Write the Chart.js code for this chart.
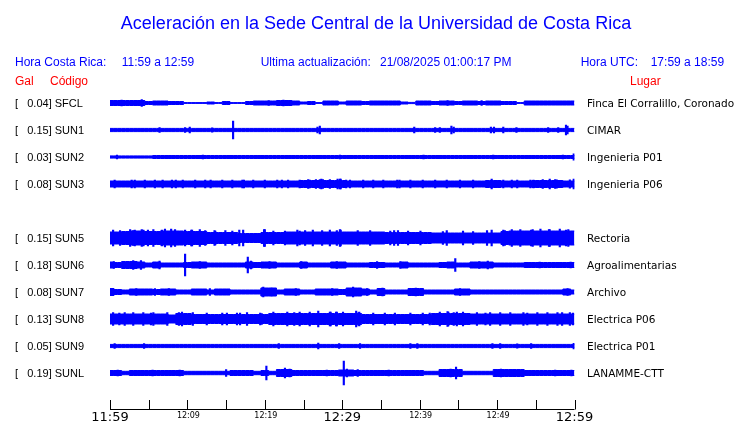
<!DOCTYPE html>
<html><head><meta charset="utf-8">
<script src="https://cdn.jsdelivr.net/npm/chart.js@4.4.1/dist/chart.umd.min.js"></script>
<style>html,body{margin:0;padding:0;background:#fff}#wrap{width:740px;height:423px;position:relative}</style>
</head><body><div id="wrap"><canvas id="c" width="740" height="423"></canvas></div>
<script>
// ---------- data ----------
const titleText = 'Aceleración en la Sede Central de la Universidad de Costa Rica';
const headerCR = ['Hora Costa Rica:', '11:59 a 12:59'];
const headerUpd = ['Ultima actualización:', '21/08/2025 01:00:17 PM'];
const headerUTC = ['Hora UTC:', '17:59 a 18:59'];
const colHeads = ['Gal', 'Código', 'Lugar'];

const stations = ['SFCL','SUN1','SUN2','SUN3','SUN5','SUN6','SUN7','SUN8','SUN9','SUNL'];
const stationRows = [0,1,2,3,5,6,7,8,9,10];
const galValues = ['0.04','0.15','0.03','0.08','0.15','0.18','0.08','0.13','0.05','0.19'];
const places = ['Finca El Corralillo, Coronado','CIMAR','Ingenieria P01','Ingenieria P06','Rectoria','Agroalimentarias','Archivo','Electrica P06','Electrica P01','LANAMME-CTT'];

const tickMinutes = [0,5,10,15,20,25,30,35,40,45,50,55,60];
const labelMinutes = [0,10,20,30,40,50,60];
const tickLabels = ['11:59','12:09','12:19','12:29','12:39','12:49','12:59'];
const bigLabels = [true,false,false,true,false,false,true];

// amplitude envelope (half-amplitude) sampled once per minute, 0..60
const envSFCL = [2.5,2.5,2.5,2.5,2.5,1.5,2,2,1.5,1.5,0.4,0.4,0.4,1,0.4,1.5,0.4,0.4,1.5,2,2,2,2.5,2.5,2,1,1.5,0.4,2,2,1,2,2,1.5,2,2,2,2,1,0.6,2,2,1.5,2,2,1.5,2,2,1.5,2,2,1.5,1.5,0.4,2,2,2,2,2,2,2];
const envSUN1 = [1.6,1.6,1.6,1.6,1.6,1.6,1.6,1.6,1.6,1.6,1.6,1.6,1.6,1.6,1.6,1.6,1.6,1.6,1.6,1.6,1.6,1.6,1.6,1.6,1.6,1.6,1.6,1.6,1.6,1.6,1.6,1.6,1.6,1.6,1.6,1.6,1.6,1.6,1.6,1.6,1.6,1.6,1.6,1.6,1.6,1.6,1.6,1.6,1.6,1.6,1.6,1.6,1.6,1.6,1.6,1.6,1.6,1.6,1.6,1.6,1.6];
const envSUN2 = [1.1,1.1,1.1,1.1,1.1,1.1,1.5,1.5,1.5,1.5,1.5,1.5,1.5,1.5,1.5,1.5,1.5,1.5,1.5,1.5,1.5,1.5,1.5,1.5,1.5,1.5,1.5,1.5,1.5,1.5,1.5,1.5,1.5,1.5,1.5,1.5,1.5,1.5,1.5,1.5,1.5,1.5,1.5,1.5,1.5,1.5,1.5,1.5,1.5,1.5,1.5,1.5,1.5,1.5,1.5,1.5,1.5,1.5,1.5,1.5,1.5];
const envSUN3 = [3,3,3,3,3,3,3,3,3,3,3,3,3,3,3,3,3,3,3,3,3,3,3,3,3,3.5,3.5,3.5,3.5,3.5,3.5,3,3,3,3,3,3,3,3,3,3,3,3,3,3,3,3,3,3,3.5,3.5,3,3,3,3,3.5,3.5,3.5,3.5,3,3];
const envSUN5 = [6,6,6.5,7,7,6.5,6.5,7,7,7,6.5,6.5,6.5,5.5,5.5,5.5,5.5,4.5,4.5,4.5,5.5,5.5,5.5,6,6,6,6,6,6,6,6,6,6,6,6,6,5.5,5.5,5.5,5.5,5.5,5.5,5,5,5,5,5,5,5,5,5,6.5,7,7,7,7,7,7,7,7,7];
const envSUN6 = [3,2.5,3.5,3.5,3,2,3,2,2,2,2.5,3,3,2,2,2,2,2,3,2.5,3,3,2,2,2,3,2,2,2,3,3,2,2,2,2.5,2.5,2,2,3,2,2,2,2,2.5,3,2,2,3,3,3,2,2,2,2,2.5,2.5,2.5,2.5,2.5,2.5,2.5];
const envSUN7 = [3.5,2.5,2,3,3,3,2.5,3,3,2,2,3,3,2,3,3,2,2,2,2,4,4,2,3,3,2,2,3,3,3,2.5,4,4,3,2,3.5,2,2,2,3.5,3.5,2,2,2,2,3,3,2,2,2,2,2,2,2,2,2,2,2,2,3,2];
const envSUN8 = [5,5,5,5,5,5,5,5,4,5.5,5.5,4.5,4.5,4.5,4.5,4.5,4.5,4.5,4.5,4.5,4.5,5.5,5.5,5.5,5.5,5.5,5.5,5.5,5.5,5.5,5.5,5.5,5.5,4.5,4.5,4.5,4.5,4.5,4.5,4.5,4.5,4.5,5.5,5.5,5.5,5.5,5.5,5,5,5,5,5,5,5,5,5,5,5,5,5,5];
const envSUN9 = [1.6,1.6,1.6,1.6,1.6,1.6,1.6,1.6,1.6,1.6,1.6,1.6,1.6,1.6,1.6,1.6,1.6,1.6,1.6,1.6,1.6,1.6,1.6,1.6,1.6,1.6,1.6,1.6,1.6,1.6,1.6,1.6,1.6,1.6,1.6,1.6,1.6,1.6,1.6,1.6,1.6,1.6,1.6,1.6,1.6,1.6,1.6,1.6,1.6,1.6,1.6,1.6,1.6,1.6,1.6,1.6,1.6,1.6,1.6,1.6,1.6];
const envSUNL = [2.5,2.5,1.7,2.5,2.5,2.5,2.5,2.5,2.5,2.5,1.7,1.7,1.7,1.7,1.7,1.7,2.5,2.5,2.5,1.7,2.5,1.7,3.5,3.5,2.5,2.5,2.5,2.5,2.5,2.5,3,3,2.5,2.5,2.5,2.5,2.5,2.5,2.5,2.5,2.5,1.7,1.7,3.5,3.5,3.5,1.7,1.7,1.7,1.7,3.5,3.5,3.5,3.5,2.5,2.5,2.5,2.5,2.5,2.5,2.5];

// isolated spikes / peaks: [minute, half-amplitude]
const spkSFCL = [[1.5,3],[4.1,3.5],[20.5,2.5],[22.4,3],[43.6,2.5],[48.0,2.5]];
const spkSUN1 = [[6.4,2.5],[9.7,2.5],[10.3,3],[13.2,2.2],[15.9,9],[26.8,3],[27.1,4],[39.3,3],[42.0,2.5],[42.6,2.5],[44.1,4],[44.4,3],[49.2,3],[49.6,3],[50.8,3],[52.5,2.5],[56.6,2.5],[57.9,2.5],[58.9,5],[59.1,4]];
const spkSUN2 = [[0.9,2],[12.0,1.8],[29.7,2],[40.5,1.8],[49.5,2],[58.5,1.8],[59.9,3.2]];
const spkSUN3 = [[0.6,4],[2.8,3.8],[3.2,4],[4.5,4],[5.8,3.8],[6.8,4],[8.0,4],[8.5,4],[9.4,3.8],[11.0,4],[12.3,4],[13.0,3.8],[14.5,4],[15.8,3.8],[17.1,4],[17.3,3.8],[18.5,4],[20.0,3.8],[21.6,4],[22.2,3.8],[23.0,4],[24.5,4],[25.6,4.5],[25.8,4],[26.6,4.5],[27.1,4.5],[27.3,5],[27.5,4.5],[28.4,4.5],[29.4,5],[29.7,5],[29.8,4.8],[30.5,4],[31.0,4],[32.7,3.8],[34.0,4],[35.3,3.8],[37.1,4],[37.4,3.8],[38.8,4],[40.4,3.8],[42.0,4],[43.5,4],[45.2,3.8],[46.9,4],[49.3,4.8],[50.8,4],[51.9,3.8],[52.6,4],[54.3,4],[54.7,4],[55.9,4.5],[56.8,4.8],[57.5,4.5],[57.7,4.2],[59.4,4.2],[59.9,5]];
const spkSUN5 = [[0.4,8],[1.3,7.5],[2.6,8.5],[3.0,7.5],[3.2,8],[4.1,8.5],[4.3,8],[4.9,8],[5.6,8.5],[6.7,8],[7.1,9],[7.9,9],[8.4,8.5],[9.7,8],[10.5,8],[10.6,8],[11.6,8.5],[12.3,7.5],[13.5,7.5],[13.6,7],[14.9,7.5],[15.8,7],[16.7,8],[17.2,8],[19.9,8.5],[20.0,8.5],[21.1,7],[22.6,7],[24.2,8],[24.5,7],[25.2,7.5],[26.2,8],[27.4,7.5],[28.4,8],[29.3,7.5],[29.7,8.5],[29.8,8],[32.0,7.5],[33.6,7.5],[36.2,7],[36.7,7.5],[37.2,7.5],[38.5,7],[40.1,7],[43.0,6.5],[43.5,7.5],[45.6,7],[46.9,6.5],[48.7,7.5],[49.3,8],[50.8,8],[51.0,7.5],[51.9,8.5],[53.0,8.5],[54.4,8],[54.6,8.5],[55.6,9],[56.7,8.5],[56.8,8.5],[58.1,9],[58.9,8],[59.2,8.5]];
const spkSUN6 = [[0.5,3.5],[3.0,4.5],[4.0,4.5],[6.4,4],[9.7,11],[11.6,3.5],[17.8,8],[18.2,4],[20.6,3.5],[24.7,3.5],[29.3,3.5],[34.5,3.5],[37.5,3.5],[44.6,6.5],[47.7,3.5],[48.8,4],[55.5,3],[59.5,3]];
const spkSUN7 = [[0.4,3.5],[3.4,3.5],[5.8,3.5],[7.6,3.5],[12.9,3.5],[19.6,4],[19.8,5],[20.9,4],[24.0,3.5],[28.7,3.5],[31.4,5],[33.2,3.5],[35.2,4],[39.5,4],[45.2,3.5],[59.1,3.5]];
const spkSUN8 = [[0.4,6.5],[1.2,6],[1.9,6.5],[3.0,6.5],[4.3,6.5],[5.3,6],[5.6,6.5],[7.4,6.5],[8.8,5.5],[8.9,6.5],[9.3,7],[10.7,6.5],[12.5,6],[14.5,6],[15.1,6],[16.4,6],[16.8,6],[17.7,6.5],[19.4,6],[19.6,5.5],[21.1,7],[22.9,7],[23.8,6.5],[24.5,7],[25.8,7],[26.9,8],[28.4,7],[28.5,7],[29.2,7],[29.3,7],[30.1,7],[31.8,8],[32.1,6.5],[32.2,7],[34.0,6],[35.5,6],[36.8,6],[38.8,6],[40.4,6],[41.3,6],[42.6,7],[43.6,7.5],[43.7,7],[44.4,6.5],[44.8,7],[45.6,7],[47.4,6.5],[48.5,6],[49.1,6.5],[50.4,6.5],[51.7,6.5],[53.4,6.5],[53.9,6],[55.2,6.5],[56.5,6.5],[57.8,6.5],[58.4,6.5],[59.4,6.5],[59.8,6]];
const spkSUN9 = [[0.6,2.5],[4.4,2.5],[21.8,2.5],[26.9,3],[29.6,2.5],[32.3,2.5],[38.8,2.5],[39.7,2.5],[49.4,2.5],[50.4,2.5],[52.6,2.2],[54.4,2.5],[59.9,2.8]];
const spkSUNL = [[1.0,3],[5.5,3],[9.0,3],[15.0,3.5],[20.2,7],[22.6,5],[23.2,4],[28.0,3],[30.2,12],[30.6,4],[32.0,3.5],[36.0,3],[44.0,4],[44.7,6],[50.5,4],[52.0,3.5],[57.5,3],[59.6,3]];

const envelopes = [envSFCL,envSUN1,envSUN2,envSUN3,envSUN5,envSUN6,envSUN7,envSUN8,envSUN9,envSUNL];
const spikes = [spkSFCL,spkSUN1,spkSUN2,spkSUN3,spkSUN5,spkSUN6,spkSUN7,spkSUN8,spkSUN9,spkSUNL];

// ---------- chart ----------
const BLUE = '#0000ff';
const ampScale = 1/27; // amplitude unit -> row unit
const datasets = [];
stations.forEach((s, i) => {
  const row = stationRows[i];
  const env = envelopes[i];
  const upIdx = datasets.length;
  datasets.push({type:'line', label:s+' up', data: env.map((a,k)=>({x:k, y: row - a*ampScale})),
    borderColor: BLUE, borderWidth: 1, pointRadius: 0, stepped: 'middle', fill: false});
  datasets.push({type:'line', label:s+' lo', data: env.map((a,k)=>({x:k, y: row + a*ampScale})),
    borderColor: BLUE, borderWidth: 1, pointRadius: 0, stepped: 'middle', fill: {target: upIdx}, backgroundColor: BLUE});
  datasets.push({type:'bar', label:s+' spikes', data: spikes[i].map(([t,a])=>({x:t, y:[row - a*ampScale, row + a*ampScale]})),
    backgroundColor: BLUE, borderWidth: 0, barThickness: 1.5, grouped: false});
});

const textPlugin = {
  id: 'texts',
  afterDraw(chart) {
    const ctx = chart.ctx;
    const xs = chart.scales.x, ys = chart.scales.y;
    ctx.save();
    ctx.textBaseline = 'alphabetic';
    ctx.fillStyle = BLUE;
    ctx.font = '18px "Liberation Sans", Arial, sans-serif';
    ctx.textAlign = 'center';
    ctx.fillText(titleText, 376, 29);
    ctx.textAlign = 'left';
    ctx.font = '12px "Liberation Sans", Arial, sans-serif';
    ctx.fillText(headerCR[0], 15, 66);
    ctx.fillText(headerCR[1], 121.7, 66);
    ctx.fillText(headerUpd[0], 260.7, 66);
    ctx.fillText(headerUpd[1], 380, 66);
    ctx.fillText(headerUTC[0], 580.7, 66);
    ctx.fillText(headerUTC[1], 650.7, 66);
    ctx.fillStyle = '#ff0000';
    ctx.fillText(colHeads[0], 15, 85);
    ctx.fillText(colHeads[1], 50, 85);
    ctx.fillText(colHeads[2], 630, 85);
    stations.forEach((s, i) => {
      const y = ys.getPixelForValue(stationRows[i]) + 4;
      ctx.fillStyle = '#000';
      ctx.font = '11px "Liberation Sans", Arial, sans-serif';
      ctx.textAlign = 'left';
      ctx.fillText('[   ' + galValues[i] + '] ' + s, 15, y);
      ctx.font = '10.5px "DejaVu Sans", sans-serif';
      ctx.fillText(places[i], 587, y);
    });
    const ay = chart.chartArea.bottom;
    ctx.strokeStyle = '#000';
    ctx.lineWidth = 1;
    ctx.beginPath();
    ctx.moveTo(xs.getPixelForValue(0), Math.round(ay) + 0.5);
    ctx.lineTo(xs.getPixelForValue(60), Math.round(ay) + 0.5);
    tickMinutes.forEach(m => {
      const x = Math.round(xs.getPixelForValue(m)) + 0.5;
      ctx.moveTo(x, Math.round(ay) + 0.5);
      ctx.lineTo(x, Math.round(ay) - 9);
    });
    ctx.stroke();
    ctx.fillStyle = '#000';
    ctx.textAlign = 'center';
    labelMinutes.forEach((m, k) => {
      const x = xs.getPixelForValue(m);
      if (bigLabels[k]) { ctx.font = '13px "DejaVu Sans", sans-serif'; ctx.fillText(tickLabels[k], x, 421); }
      else { ctx.font = '8px "DejaVu Sans", sans-serif'; ctx.fillText(tickLabels[k], x + 1, 418.3); }
    });
    ctx.restore();
  }
};

new Chart(document.getElementById('c'), {
  type: 'line',
  data: { datasets },
  options: {
    responsive: false,
    animation: false,
    devicePixelRatio: 1,
    layout: { padding: { left: 110, right: 165.5, top: 89.5, bottom: 14 } },
    scales: {
      x: { type: 'linear', min: 0, max: 60, display: false, offset: false },
      y: { type: 'linear', min: -0.5, max: 11.333, reverse: true, display: false }
    },
    plugins: { legend: { display: false }, tooltip: { enabled: false } }
  },
  plugins: [textPlugin]
});
</script></body></html>
